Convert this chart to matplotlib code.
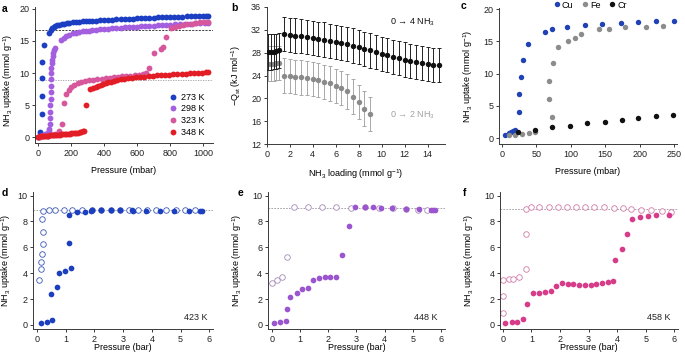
import matplotlib
matplotlib.use("Agg")
import matplotlib.pyplot as plt
from matplotlib.lines import Line2D

plt.rcParams['font.family'] = ['Liberation Sans', 'DejaVu Sans']
plt.rcParams['mathtext.default'] = 'regular'
plt.rcParams['axes.unicode_minus'] = True

# ---------------- data ----------------
# panel a
a273_p = [5, 15, 22, 24, 25, 27, 37, 68, 76, 85, 95, 105, 118, 130, 145, 160, 175, 190, 210, 230, 250, 270,
          290, 310, 330, 350, 375, 400, 425, 450, 475, 500, 525, 550, 575, 600, 625, 650, 675, 700, 725, 750,
          775, 800, 825, 850, 875, 900, 925, 950, 975, 1000, 1020, 1030]
a273_u = [0.1, 0.8, 3.6, 6.4, 9.2, 11.8, 14.3, 16.3, 16.7, 16.95, 17.15, 17.3, 17.45, 17.55, 17.65, 17.72, 17.8,
          17.85, 17.9, 17.95, 18.0, 18.05, 18.08, 18.1, 18.14, 18.17, 18.2, 18.24, 18.28, 18.32, 18.36, 18.4,
          18.43, 18.46, 18.5, 18.53, 18.56, 18.59, 18.62, 18.65, 18.68, 18.7, 18.72, 18.74, 18.76, 18.78, 18.8,
          18.82, 18.84, 18.86, 18.87, 18.88, 18.89, 18.9]
a298_p = [3, 10, 20, 30, 40, 50, 58, 64, 68, 71, 73, 74, 75, 76, 77, 78, 79, 80, 81, 83, 85, 88, 92, 97, 102,
          138, 155, 172, 190, 210, 230, 250, 270, 290, 310, 330, 350, 375, 400, 425, 450, 475, 500, 525, 550,
          575, 600, 625, 650, 675, 700, 725, 750, 775, 800, 830, 860, 890, 920, 950, 980, 1010, 1030]
a298_u = [0.05, 0.15, 0.25, 0.35, 0.45, 0.55, 0.7, 0.9, 1.3, 2.0, 3.0, 4.0, 5.0, 6.0, 7.0, 8.0, 9.0, 10.0, 10.8,
          11.5, 12.0, 12.6, 13.2, 13.6, 13.9,
          15.1, 15.5, 15.8, 16.0, 16.2, 16.3, 16.4, 16.5, 16.55, 16.6, 16.68, 16.74, 16.8, 16.87, 16.93, 16.98,
          17.03, 17.08, 17.12, 17.16, 17.2, 17.24, 17.28, 17.32, 17.36, 17.4, 17.44, 17.48, 17.52, 17.56, 17.6,
          17.64, 17.68, 17.72, 17.76, 17.8, 17.84, 17.86]
a323_p = [3, 15, 30, 45, 60, 75, 90, 105, 125, 147, 160, 172, 185, 200, 220, 240, 262, 285, 310, 335, 360, 385,
          410, 435, 460, 485, 510, 535, 560, 585, 610, 635, 655, 672, 705, 745, 755, 778, 805, 830, 855, 880,
          905, 930, 955, 980, 1005, 1030]
a323_u = [0.05, 0.1, 0.15, 0.2, 0.25, 0.3, 0.35, 0.45, 0.9, 2.0, 5.3, 6.8, 7.4, 7.8, 8.2, 8.4, 8.55, 8.7, 8.85,
          8.95, 9.05, 9.12, 9.2, 9.27, 9.34, 9.41, 9.48, 9.55, 9.6, 9.66, 9.75, 9.85, 10.05, 10.8, 13.1, 13.7,
          14.1, 15.7, 17.0, 17.2, 17.35, 17.5, 17.6, 17.7, 17.8, 17.9, 17.95, 18.0]
a348_p = [3, 12, 22, 32, 42, 52, 62, 72, 82, 92, 102, 112, 122, 132, 142, 152, 162, 172, 182, 192, 202, 212,
          222, 232, 242, 252, 262, 272, 280, 291, 318, 335, 350, 365, 380, 395, 410, 425, 440, 460, 480, 500,
          520, 545, 570, 595, 620, 645, 670, 695, 720, 745, 770, 795, 820, 845, 870, 895, 920, 945, 970, 995,
          1015, 1030]
a348_u = [0.1, 0.12, 0.15, 0.18, 0.2, 0.22, 0.25, 0.28, 0.3, 0.32, 0.35, 0.38, 0.4, 0.42, 0.45, 0.48, 0.5, 0.52,
          0.55, 0.58, 0.6, 0.63, 0.66, 0.7, 0.73, 0.78, 0.83, 0.9, 1.0, 5.0, 7.45, 7.65, 7.85, 8.0, 8.15, 8.3,
          8.42, 8.55, 8.65, 8.78, 8.9, 9.0, 9.08, 9.17, 9.25, 9.33, 9.4, 9.46, 9.52, 9.58, 9.63, 9.68, 9.72,
          9.77, 9.81, 9.85, 9.89, 9.93, 9.97, 10.0, 10.04, 10.08, 10.12, 10.15]
a_labels = ['273 K', '298 K', '323 K', '348 K']
a_colors = ['#1b3ec2', '#a45ee0', '#d6579b', '#e31d25']

# panel b
b4_x = [0.1, 0.35, 0.6, 0.85, 1.1, 1.5, 2, 2.5, 3, 3.5, 4, 4.5, 5, 5.5, 6, 6.5, 7, 7.5, 8, 8.5, 9, 9.5, 10,
        10.5, 11, 11.5, 12, 12.5, 13, 13.5, 14, 14.5, 15]
b4_q = [28.1, 28.15, 28.2, 28.25, 28.4, 31.3, 31.1, 31.0, 30.9, 30.75, 30.6, 30.45, 30.3, 30.1, 29.9, 29.7,
        29.5, 29.25, 29.0, 28.7, 28.4, 28.1, 27.8, 27.55, 27.3, 27.05, 26.8, 26.6, 26.4, 26.2, 26.0, 25.9, 25.9]
b4_err = [3.1] * 5 + [3.0] * 28
b2_x = [0.1, 0.35, 0.6, 0.85, 1.1, 1.5, 2, 2.5, 3, 3.5, 4, 4.5, 5, 5.5, 6, 6.5, 7, 7.5, 8, 8.5, 9]
b2_q = [26.1, 26.1, 26.1, 26.15, 26.2, 24.0, 23.9, 23.8, 23.65, 23.5, 23.35, 23.15, 22.9, 22.6, 22.2, 21.75,
        21.2, 20.3, 19.4, 18.2, 17.2]
b2_err = [3.0] * 21

# panel c
cu_p = [5, 10, 13.5, 17, 20, 25.6, 25.6, 28, 30.5, 38.7, 63, 72.5, 95, 121, 145, 172.6, 198, 223, 249]
cu_u = [0.5, 0.8, 0.9, 1.1, 1.3, 4.0, 6.8, 9.5, 12.1, 14.6, 16.5, 16.9, 17.3, 17.6, 17.7, 17.8, 18.0, 18.2, 18.2]
fe_p = [10, 19, 29, 39, 48, 72.5, 69, 69, 74, 81, 96.7, 106, 114.6, 141, 155, 179, 209, 233]
fe_u = [0.4, 0.5, 0.6, 0.8, 0.9, 3.2, 6.1, 8.9, 11.6, 14.1, 15.1, 15.5, 16.1, 16.9, 17.0, 17.2, 17.3, 17.4]
cr_p = [24, 48, 73.5, 99, 123, 149, 174, 198, 223, 248]
cr_u = [1.0, 1.3, 1.65, 1.9, 2.3, 2.5, 2.8, 3.1, 3.4, 3.5]

# panel d (423 K)
d_ads_p = [0.13, 0.36, 0.52, 0.5, 0.68, 0.76, 0.97, 1.18, 1.13, 1.12, 1.38, 1.67, 1.88, 1.91, 2.23, 2.57, 2.9,
           3.30, 3.34, 3.80, 4.29, 4.76, 5.28, 5.69, 5.74]
d_ads_u = [0.18, 0.26, 0.36, 2.37, 2.9, 4.05, 4.2, 4.4, 6.3, 8.48, 8.76, 8.76, 8.8, 8.89, 8.89, 8.89, 8.89,
           8.85, 8.82, 8.82, 8.8, 8.8, 8.78, 8.82, 8.8]
d_des_p = [0.07, 0.15, 0.15, 0.19, 0.21, 0.21, 0.19, 0.2, 0.43, 0.62, 0.94, 1.23, 1.57, 1.9, 2.23, 2.56, 2.88,
           3.2, 3.52, 3.83, 4.16, 4.5, 4.83, 5.17, 5.52]
d_des_u = [3.48, 4.33, 4.85, 5.49, 6.26, 7.2, 8.17, 8.84, 8.89, 8.89, 8.89, 8.9, 8.9, 8.9, 8.9, 8.9, 8.9,
           8.9, 8.9, 8.92, 8.92, 8.92, 8.92, 8.9, 8.9]

# panel e (448 K)
e_ads_p = [0.09, 0.29, 0.49, 0.55, 0.65, 0.9, 1.08, 1.29, 1.45, 1.67, 1.88, 2.08, 2.28, 2.47, 2.73, 2.94, 3.29,
           3.59, 3.85, 4.27, 4.74, 5.21, 5.65, 5.70, 5.76]
e_ads_u = [0.18, 0.23, 0.31, 1.21, 2.14, 2.5, 2.76, 2.84, 3.48, 3.66, 3.71, 3.71, 3.71, 5.41, 7.68, 9.15, 9.1,
           9.1, 9.07, 9.02, 8.97, 8.94, 8.92, 8.92, 8.92]
e_des_p = [0.02, 0.2, 0.35, 0.56, 0.8, 1.29, 1.79, 2.29, 2.8, 3.3, 3.8, 4.3, 4.75, 5.18, 5.5]
e_des_u = [3.22, 3.48, 3.74, 5.28, 9.15, 9.15, 9.15, 9.1, 9.07, 9.1, 9.07, 9.02, 8.97, 8.92, 8.89]

# panel f (458 K)
f_ads_p = [0.08, 0.31, 0.51, 0.7, 0.86, 1.05, 1.28, 1.48, 1.67, 1.86, 2.08, 2.27, 2.47, 2.68, 2.88, 3.08, 3.27,
           3.47, 3.67, 3.86, 3.92, 4.17, 4.35, 4.53, 4.81, 5.08, 5.37, 5.81]
f_ads_u = [0.18, 0.2, 0.26, 0.46, 1.62, 2.45, 2.5, 2.58, 2.63, 3.04, 3.22, 3.17, 3.15, 3.12, 3.1, 3.12, 3.15,
           3.22, 3.3, 3.43, 5.03, 5.85, 7.04, 8.17, 8.38, 8.43, 8.51, 8.51]
f_des_p = [0.02, 0.0, 0.02, 0.2, 0.36, 0.56, 0.8, 0.82, 0.8, 0.99, 1.28, 1.6, 1.93, 2.24, 2.57, 2.88, 3.2, 3.53,
           3.88, 4.19, 4.5, 4.85, 5.2, 5.56, 5.9]
f_des_u = [0.9, 2.27, 3.48, 3.56, 3.56, 3.74, 4.3, 7.04, 8.97, 9.1, 9.15, 9.15, 9.15, 9.15, 9.1, 9.08, 9.08,
           9.08, 9.07, 9.02, 8.94, 8.89, 8.86, 8.82, 8.76]

# ---------------- figure ----------------
W, H = 685, 355
fig = plt.figure(figsize=(W / 100, H / 100), dpi=100)
FS = 6.5
SP = '#3a3a3a'


def make_ax(x0, x1, y0, y1):
    ax = fig.add_axes([x0 / W, 1 - y1 / H, (x1 - x0) / W, (y1 - y0) / H])
    for s in ['top', 'right']:
        ax.spines[s].set_visible(False)
    for s in ['left', 'bottom']:
        ax.spines[s].set_color(SP)
        ax.spines[s].set_linewidth(0.7)
    ax.tick_params(direction='out', length=2.5, width=0.7, color=SP, labelsize=FS,
                   labelcolor='#222222', pad=1.5)
    return ax


def letter(px, py, s):
    fig.text(px / W, 1 - py / H, s, fontsize=7.5, fontweight='bold', ha='left', va='center')


MS = 4.2

# ---- panel a ----
ax = make_ax(35, 213, 7, 143)
ax.axhline(16.7, color='#222222', lw=0.6, ls=(0, (2.5, 1.5)), zorder=1)
ax.axhline(8.9, color='#999999', lw=0.6, ls=(0, (1.5, 1.5)), zorder=1)
handles = []
for px_, u_, c, lab in zip([a273_p, a298_p, a323_p, a348_p], [a273_u, a298_u, a323_u, a348_u], a_colors, a_labels):
    ax.plot(px_, u_, 'o', ms=MS, color=c, mec='none', zorder=2)
    handles.append(Line2D([], [], marker='o', ls='none', ms=MS, color=c, mec='none', label=lab))
ax.set_xlim(-18, 1060)
ax.set_ylim(-0.9, 20.3)
ax.set_xticks([0, 200, 400, 600, 800, 1000])
ax.set_yticks([0, 5, 10, 15, 20])
ax.set_xlabel('Pressure (mbar)', fontsize=FS)
ax.set_ylabel('NH$_3$ uptake (mmol g$^{-1}$)', fontsize=FS)
ax.xaxis.set_label_coords(0.5, -0.17)
ax.yaxis.set_label_coords(-0.112, 0.46)
ax.legend(handles=handles, loc='upper left', bbox_to_anchor=(0.75, 0.37), frameon=False, fontsize=FS,
          borderpad=0, borderaxespad=0, handlelength=1.0, handletextpad=0.4, labelspacing=0.3)
letter(2, 9, 'a')

# ---- panel b ----
ax = make_ax(266.7, 445, 7, 144)
ax.errorbar(b2_x, b2_q, yerr=b2_err, fmt='o', ms=3.9, color='#8a8a8a', mec='none', ecolor='#a8a8a8',
            elinewidth=0.7, capsize=1.6, capthick=0.7, zorder=2)
ax.errorbar(b4_x, b4_q, yerr=b4_err, fmt='o', ms=3.9, color='#111111', mec='none', ecolor='#222222',
            elinewidth=0.7, capsize=1.6, capthick=0.7, zorder=3)
ax.set_xlim(0, 15.5)
ax.set_ylim(12, 36)
ax.set_xticks(range(0, 15, 2))
ax.set_yticks(range(12, 37, 4))
ax.text(10.75, 33.4, '0 \u2192 4 NH$_3$', fontsize=FS, color='#111111', ha='left', va='center')
ax.text(10.75, 17.1, '0 \u2192 2 NH$_3$', fontsize=FS, color='#a0a0a0', ha='left', va='center')
ax.set_xlabel('NH$_3$ loading (mmol g$^{-1}$)', fontsize=FS)
ax.set_ylabel('\u2212Q$_{st}$ (kJ mol$^{-1}$)', fontsize=FS)
ax.xaxis.set_label_coords(0.5, -0.17)
ax.yaxis.set_label_coords(-0.135, 0.5)
letter(231, 8, 'b')

# ---- panel c ----
ax = make_ax(499, 677, 8, 144)
cc = ['#2142b5', '#8c8c8c', '#111111']
ax.plot(cu_p, cu_u, 'o', ms=3.9, color=cc[0], mec='none', zorder=2)
ax.plot(fe_p, fe_u, 'o', ms=3.9, color=cc[1], mec='none', zorder=2)
ax.plot(cr_p, cr_u, 'o', ms=3.9, color=cc[2], mec='none', zorder=3)
ax.set_xlim(-3.9, 254)
ax.set_ylim(-0.93, 20.2)
ax.set_xticks([0, 50, 100, 150, 200, 250])
ax.set_yticks([0, 5, 10, 15, 20])
hc = [Line2D([], [], marker='o', ls='none', ms=3.9, color=c, mec='none', label=l)
      for c, l in zip(cc, ['Cu', 'Fe', 'Cr'])]
ax.legend(handles=hc, loc='center', bbox_to_anchor=(0.51, 1.022), ncol=3, frameon=False, fontsize=FS,
          borderpad=0, borderaxespad=0, handlelength=0.8, handletextpad=0.15, columnspacing=0.9)
ax.set_xlabel('Pressure (mbar)', fontsize=FS)
ax.set_ylabel('NH$_3$ uptake (mmol g$^{-1}$)', fontsize=FS)
ax.xaxis.set_label_coords(0.5, -0.17)
ax.yaxis.set_label_coords(-0.135, 0.5)
letter(461, 6, 'c')


# ---- panels d, e, f ----
def iso_panel(x0, x1, xl, ap, au, dp, du, col, ocol, line_y, temp, tx, let, lx, ylx):
    ax = make_ax(x0, x1, 191.7, 329)
    ax.axhline(line_y, color='#999999', lw=0.6, ls=(0, (2, 1.5)), zorder=1)
    ax.plot(dp, du, 'o', ms=4.0, mfc='white', mec=ocol, mew=0.6, zorder=2)
    ax.plot(ap, au, 'o', ms=4.1, color=col, mec='none', zorder=3)
    ax.set_xlim(xl, 6.13)
    ax.set_ylim(-0.31, 10.3)
    ax.set_xticks(range(0, 7))
    ax.set_yticks(range(0, 11, 2))
    ax.text(tx, 0.6, temp, fontsize=FS, ha='right', va='center', color='#222222')
    ax.set_xlabel('Pressure (bar)', fontsize=FS)
    ax.set_ylabel('NH$_3$ uptake (mmol g$^{-1}$)', fontsize=FS)
    ax.xaxis.set_label_coords(0.5, -0.105)
    ax.yaxis.set_label_coords(ylx, 0.5)
    letter(lx, 193, let)


iso_panel(33.3, 213, -0.13, d_ads_p, d_ads_u, d_des_p, d_des_u, '#1c3fbf', '#3a57b8', 8.87, '423 K', 5.93, 'd', 2, -0.112)
iso_panel(267.7, 445, -0.14, e_ads_p, e_ads_u, e_des_p, e_des_u, '#9b55cf', '#a68ab9', 9.02, '448 K', 5.88, 'e', 238, -0.135)
iso_panel(500, 678, -0.1, f_ads_p, f_ads_u, f_des_p, f_des_u, '#d63c8a', '#d27aa8', 9.0, '458 K', 5.88, 'f', 463, -0.135)

fig.savefig('out.png', dpi=100)
